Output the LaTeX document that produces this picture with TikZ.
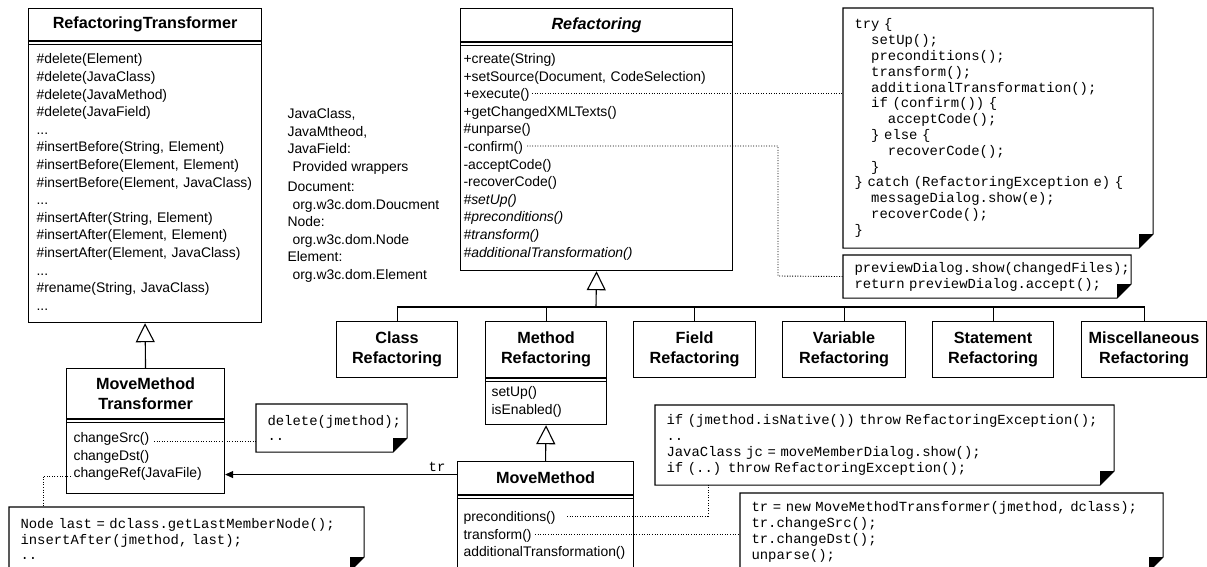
\documentclass[tikz,border=0pt]{standalone}
\usepackage{fontspec}
\setmainfont{Liberation Sans}
\setmonofont{Liberation Mono}
\usetikzlibrary{arrows.meta}

\newcommand{\titlefont}{\fontsize{16.2}{20}\selectfont\bfseries}
\newcommand{\bodyfont}{\fontsize{13.9}{17.6}\selectfont}
\newcommand{\codefont}{\fontsize{13.9}{15.8}\selectfont\ttfamily\spaceskip=0.6em\relax}
\newcommand{\ind}{\hphantom{xx}}
% note with a folded corner
\newcommand{\foldnote}[1]{%
  \draw (#1.north west) -- (#1.north east) -- ([yshift=14pt]#1.south east)
    -- ([xshift=-14pt]#1.south east) -- (#1.south west) -- cycle;
  \fill ([yshift=14pt]#1.south east) -- ([xshift=-14pt]#1.south east)
    -- ([xshift=-14pt,yshift=14pt]#1.south east) -- cycle;}

\tikzset{
  clstitle/.style={draw, anchor=north west, align=center, font=\titlefont, inner sep=0pt},
  clsbody/.style={draw, anchor=north west, align=left, font=\bodyfont, inner ysep=0pt},
  note/.style={anchor=north west, align=left, font=\codefont, inner xsep=11pt, inner ysep=0pt},
  gen/.style={-{Triangle[open,length=19pt,width=19pt]}},
  assoc/.style={-{Triangle[length=8pt,width=7pt]}},
  noteline/.style={line width=0.9pt, dash pattern=on 1pt off 1.6pt},
}

\begin{document}
\begin{tikzpicture}[x=1pt, y=-1pt, line width=1.1pt]
  \useasboundingbox (0,0) rectangle (1207,567);
  \clip (0,0) rectangle (1207,567);

  % RefactoringTransformer
  \node[clstitle, minimum width=233pt, minimum height=32pt] (rttitle) at (28,8) {RefactoringTransformer};
  \node[clsbody, inner xsep=8pt, text width=217pt, minimum height=281pt] (rtbody) at (rttitle.south west) {%
    \#delete(Element)\\
    \#delete(JavaClass)\\
    \#delete(JavaMethod)\\
    \#delete(JavaField)\\
    ...\\
    \#insertBefore(String, Element)\\
    \#insertBefore(Element, Element)\\
    \#insertBefore(Element, JavaClass)\\
    ...\\
    \#insertAfter(String, Element)\\
    \#insertAfter(Element, Element)\\
    \#insertAfter(Element, JavaClass)\\
    ...\\
    \#rename(String, JavaClass)\\
    ...};
  \draw ([yshift=-3.5pt]rtbody.north west) -- ([yshift=-3.5pt]rtbody.north east);

  % wrapper remarks
  \node[anchor=north west, align=left, inner sep=0pt, font=\fontsize{13.9}{17.5}\selectfont] (wrap) at (287,108) {%
    JavaClass,\\
    JavaMtheod,\\
    JavaField:\\
    \hspace{5pt}Provided wrappers\\[3pt]
    Document:\\
    \hspace{5pt}org.w3c.dom.Doucment\\
    Node:\\
    \hspace{5pt}org.w3c.dom.Node\\
    Element:\\
    \hspace{5pt}org.w3c.dom.Element};

  % Refactoring
  \node[clstitle, minimum width=272pt, minimum height=33pt] (reftitle) at (460,8) {\itshape Refactoring};
  \node[clsbody, inner xsep=3pt, text width=266pt, minimum height=228pt] (refbody) at (reftitle.south west) {%
    +create(String)\\
    +setSource(Document, CodeSelection)\\
    +execute()\\
    +getChangedXMLTexts()\\
    \#unparse()\\
    -confirm()\\
    -acceptCode()\\
    -recoverCode()\\
    \textit{\#setUp()}\\
    \textit{\#preconditions()}\\
    \textit{\#transform()}\\
    \textit{\#additionalTransformation()}};
  \draw ([yshift=-3.5pt]refbody.north west) -- ([yshift=-3.5pt]refbody.north east);

  % subclasses
  \node[clstitle, minimum width=121pt, minimum height=56pt] (clsref) at (336,321) {Class\\Refactoring};
  \node[clstitle, minimum width=121pt, minimum height=56pt] (mrtitle) at (485,321) {Method\\Refactoring};
  \node[clsbody, inner xsep=6pt, text width=109pt, minimum height=46pt] (mrbody) at (mrtitle.south west) {%
    setUp()\\
    isEnabled()};
  \draw ([yshift=-3.5pt]mrbody.north west) -- ([yshift=-3.5pt]mrbody.north east);
  \node[clstitle, minimum width=122pt, minimum height=56pt] (fieldref) at (633,321) {Field\\Refactoring};
  \node[clstitle, minimum width=123pt, minimum height=56pt] (varref) at (782,321) {Variable\\Refactoring};
  \node[clstitle, minimum width=121pt, minimum height=56pt] (stmtref) at (932,321) {Statement\\Refactoring};
  \node[clstitle, minimum width=125pt, minimum height=56pt] (miscref) at (1081,321) {Miscellaneous\\Refactoring};

  % MoveMethodTransformer
  \node[clstitle, minimum width=158pt, minimum height=50pt] (mmttitle) at (66,368) {MoveMethod\\Transformer};
  \node[clsbody, inner xsep=7pt, text width=144pt, minimum height=74pt] (mmtbody) at (mmttitle.south west) {%
    changeSrc()\\
    changeDst()\\
    changeRef(JavaFile)};
  \draw ([yshift=-3.5pt]mmtbody.north west) -- ([yshift=-3.5pt]mmtbody.north east);

  % MoveMethod
  \node[clstitle, minimum width=176pt, minimum height=33pt] (mmtitle) at (457,461) {MoveMethod};
  \node[clsbody, inner xsep=6pt, text width=164pt, minimum height=80pt] (mmbody) at (mmtitle.south west) {%
    preconditions()\\
    transform()\\
    additionalTransformation()};
  \draw ([yshift=-3.5pt]mmbody.north west) -- ([yshift=-3.5pt]mmbody.north east);

  % notes
  \node[note, text width=287pt, minimum height=239pt] (trynote) at (843,8) {%
    try \{\\
    \ind setUp();\\
    \ind preconditions();\\
    \ind transform();\\
    \ind additionalTransformation();\\
    \ind if (confirm()) \{\\
    \ind\ind acceptCode();\\
    \ind \} else \{\\
    \ind\ind recoverCode();\\
    \ind \}\\
    \} catch (RefactoringException e) \{\\
    \ind messageDialog.show(e);\\
    \ind recoverCode();\\
    \}};
  \foldnote{trynote}
  \node[note, text width=265pt, minimum height=42pt] (prevnote) at (843,255) {%
    previewDialog.show(changedFiles);\\
    return previewDialog.accept();};
  \foldnote{prevnote}
  \node[note, text width=436pt, minimum height=79pt] (ifnote) at (655,405) {%
    if (jmethod.isNative()) throw RefactoringException();\\
    ..\\
    JavaClass jc = moveMemberDialog.show();\\
    if (..) throw RefactoringException();};
  \foldnote{ifnote}
  \node[note, text width=400pt, minimum height=77pt] (trnote) at (740,493) {%
    tr = new MoveMethodTransformer(jmethod, dclass);\\
    tr.changeSrc();\\
    tr.changeDst();\\
    unparse();};
  \foldnote{trnote}
  \node[note, text width=128pt, minimum height=47pt] (delnote) at (256,404) {%
    delete(jmethod);\\
    ..};
  \foldnote{delnote}
  \node[note, text width=332pt, minimum height=63pt] (llnote) at (9,507) {%
    Node last = dclass.getLastMemberNode();\\
    insertAfter(jmethod, last);\\
    ..};
  \foldnote{llnote}

  % generalizations
  \coordinate (bar) at (596,307);
  \draw[gen] (bar) -- (refbody.south);
  \foreach \c in {clsref, mrtitle, fieldref, varref, stmtref, miscref}
    \draw (\c.north) |- (bar);
  \draw[gen] (mmtitle.north) -- (mrbody.south);
  \draw[gen] (mmttitle.north) -- (rtbody.south);

  % association
  \draw[assoc] ([yshift=3.5pt]mmtitle.west) -- ([yshift=3.5pt]mmtitle.west -| mmtbody.east)
    node[pos=0.086, above, inner sep=2pt, font=\codefont] {tr};

  % note links
  \coordinate (exec) at (532,93);
  \coordinate (conf) at (527,146);
  \coordinate (src) at (154,441);
  \coordinate (ref) at (71,476);
  \coordinate (pre) at (567,516);
  \coordinate (trf) at (535,534);
  \draw[noteline] (exec) -- (exec -| trynote.west);
  \draw[noteline] (conf) -| (778,276) -- (prevnote.west);
  \draw[noteline] (src) -- (src -| delnote.west);
  \draw[noteline] (ref) -| ([xshift=34pt]llnote.north west);
  \draw[noteline] (pre) -| ([xshift=53pt]ifnote.south west);
  \draw[noteline] (trf) -- (trf -| trnote.west);
\end{tikzpicture}
\end{document}
